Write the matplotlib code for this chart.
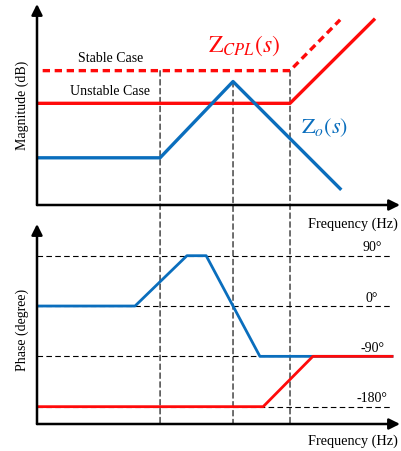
import matplotlib
matplotlib.use("Agg")
import matplotlib.pyplot as plt
from matplotlib.patches import ConnectionPatch

plt.rcParams["font.family"] = ["Liberation Serif", "DejaVu Serif"]
plt.rcParams["mathtext.fontset"] = "stix"

RED = "#FF0A0A"
BLUE = "#0A6EBD"

# Frequency axis in decades (arbitrary origin)
f_stable = [0, 6.97, 8.35]
mag_stable = [74, 74, 102]
f_unstable = [0, 6.97, 9.28]
mag_unstable = [56, 56, 102]
f_zo = [0, 3.39, 5.40, 8.35]
mag_zo = [26, 26, 68, 9]

f_zo_ph = [0, 2.70, 4.13, 4.66, 6.14, 9.78]
ph_zo = [0, 0, 90, 90, -90, -90]
f_cpl_ph = [0, 6.23, 7.60, 9.78]
ph_cpl = [-180, -180, -90, -90]

phase_levels = [90, 0, -90, -180]
phase_labels = ["90°", "0°", "-90°", "-180°"]

# Corner frequencies marked by vertical guides
f_marks = [3.39, 5.40, 6.97]
mag_marks = [74, 68, 74]

fig = plt.figure(figsize=(4.01, 4.52), dpi=100)
ax_m = fig.add_axes([37 / 401, 1 - 206 / 452, 363 / 401, 201 / 452])
ax_p = fig.add_axes([37 / 401, 1 - 425 / 452, 363 / 401, 200 / 452])

ax_m.set_xlim(0, 10)
ax_m.set_ylim(0, 110.7)
ax_p.set_xlim(0, 10)
ax_p.set_ylim(-211, 146.7)

for ax in (ax_m, ax_p):
    ax.set_xticks([])
    ax.set_yticks([])
    for s in ax.spines.values():
        s.set_visible(False)
    ax.patch.set_alpha(0)
    arrow = dict(arrowstyle="-|>", lw=1.8, color="black", mutation_scale=16,
                 shrinkA=0, shrinkB=0)
    ax.annotate("", xy=(1.0, 0), xytext=(0, 0), xycoords="axes fraction",
                arrowprops=arrow)
    ax.annotate("", xy=(0, 1.0), xytext=(0, 0), xycoords="axes fraction",
                arrowprops=arrow)

# Magnitude plot
ax_m.plot(f_stable, mag_stable, color=RED, lw=2.4, ls=(1.9, (2.2, 1.4)),
          solid_capstyle="butt")
ax_m.plot(f_unstable, mag_unstable, color=RED, lw=2.4)
ax_m.plot(f_zo, mag_zo, color=BLUE, lw=2.4)

ax_m.text(2.04, 81.5, "Stable Case", ha="center", va="center", fontsize=10)
ax_m.text(2.01, 62.8, "Unstable Case", ha="center", va="center", fontsize=10)
ax_m.text(5.70, 88.5, r"$\mathrm{Z}_{CPL}(s)$", color=RED, ha="center",
          va="center", fontsize=17)
ax_m.text(7.93, 43, r"$\mathrm{Z}_{o}(s)$", color=BLUE, ha="center",
          va="center", fontsize=16)
ax_m.text(0.87, -0.09, "Frequency (Hz)", transform=ax_m.transAxes,
          ha="center", va="center", fontsize=10.3)
ax_m.text(-0.041, 0.5, "Magnitude (dB)", transform=ax_m.transAxes,
          ha="center", va="center", rotation=90, fontsize=10)

# Phase plot
for lvl, lab in zip(phase_levels, phase_labels):
    ax_p.plot([0, 9.78], [lvl, lvl], color="black", lw=0.8,
              ls=(0, (5, 3)))
    ax_p.text(9.23, lvl + 4, lab, ha="center", va="bottom", fontsize=10)

ax_p.plot(f_zo_ph, ph_zo, color=BLUE, lw=2.0)
ax_p.plot(f_cpl_ph, ph_cpl, color=RED, lw=2.0)

ax_p.text(0.87, -0.08, "Frequency (Hz)", transform=ax_p.transAxes,
          ha="center", va="center", fontsize=10.3)
ax_p.text(-0.041, 0.475, "Phase (degree)", transform=ax_p.transAxes,
          ha="center", va="center", rotation=90, fontsize=10)

# Vertical guides linking both panels
for fx, my in zip(f_marks, mag_marks):
    con = ConnectionPatch(xyA=(fx, my), coordsA=ax_m.transData,
                          xyB=(fx, -211), coordsB=ax_p.transData,
                          color="black", lw=0.8, ls=(0, (5, 3)), zorder=0)
    fig.add_artist(con)

fig.savefig("out.png", dpi=100)
